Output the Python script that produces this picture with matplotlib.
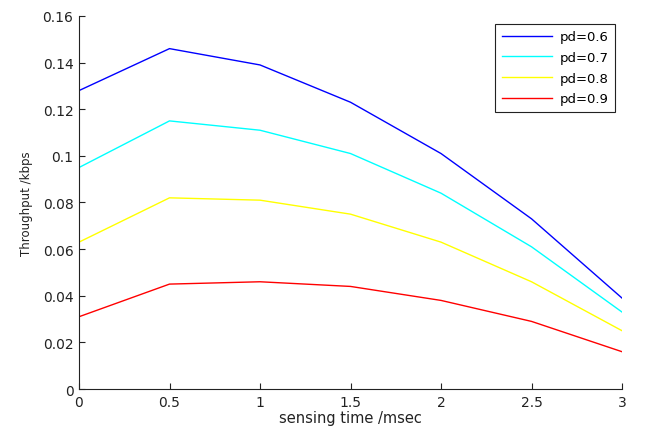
import numpy as np
import matplotlib.pyplot as plt

plt.rcParams['font.family'] = ['DejaVu Sans']

# sensing time in msec
sensing_time = [0, 0.5, 1, 1.5, 2, 2.5, 3]

thr_pd06 = [0.128, 0.146, 0.139, 0.123, 0.101, 0.073, 0.039]
thr_pd07 = [0.095, 0.115, 0.111, 0.101, 0.084, 0.061, 0.033]
thr_pd08 = [0.063, 0.082, 0.081, 0.075, 0.063, 0.046, 0.025]
thr_pd09 = [0.031, 0.045, 0.046, 0.044, 0.038, 0.029, 0.016]

labels = ['pd=0.6', 'pd=0.7', 'pd=0.8', 'pd=0.9']
colors = ['#0000ff', '#00ffff', '#ffff00', '#ff0000']

fig = plt.figure(num=1, figsize=(6.47, 4.31), dpi=100)
ax = fig.add_axes([0.1221, 0.0951, 0.8393, 0.8655])

for ys, lab, c in zip([thr_pd06, thr_pd07, thr_pd08, thr_pd09], labels, colors):
    ax.plot(sensing_time, ys, color=c, linewidth=1.0, label=lab)

ax.set_xlim(0, 3)
ax.set_ylim(0, 0.16)
ax.set_xticks(np.arange(0, 3.01, 0.5))
ax.set_xticklabels(['0', '0.5', '1', '1.5', '2', '2.5', '3'])
ax.set_yticks(np.arange(0, 0.161, 0.02))
ax.set_yticklabels(['0', '0.02', '0.04', '0.06', '0.08', '0.1', '0.12', '0.14', '0.16'])

ax.spines['top'].set_visible(False)
ax.spines['right'].set_visible(False)
for s in ['left', 'bottom']:
    ax.spines[s].set_color('#222222')
ax.tick_params(direction='in', length=4, colors='#222222', labelsize=10, pad=4)

ax.set_xlabel('sensing time /msec', size=10.5, color='#222222', labelpad=1)
ax.set_ylabel('Throughput /kbps', size=8.5, color='#222222', labelpad=7)

leg = ax.legend(loc='upper right', bbox_to_anchor=(0.987, 0.979), borderaxespad=0,
                fontsize=9.5, fancybox=False, edgecolor='#222222', framealpha=1,
                handlelength=3.8, handletextpad=0.55, borderpad=0.5, labelspacing=0.58)
leg.get_frame().set_linewidth(0.8)

plt.savefig('out.png', format='png', dpi=100)
